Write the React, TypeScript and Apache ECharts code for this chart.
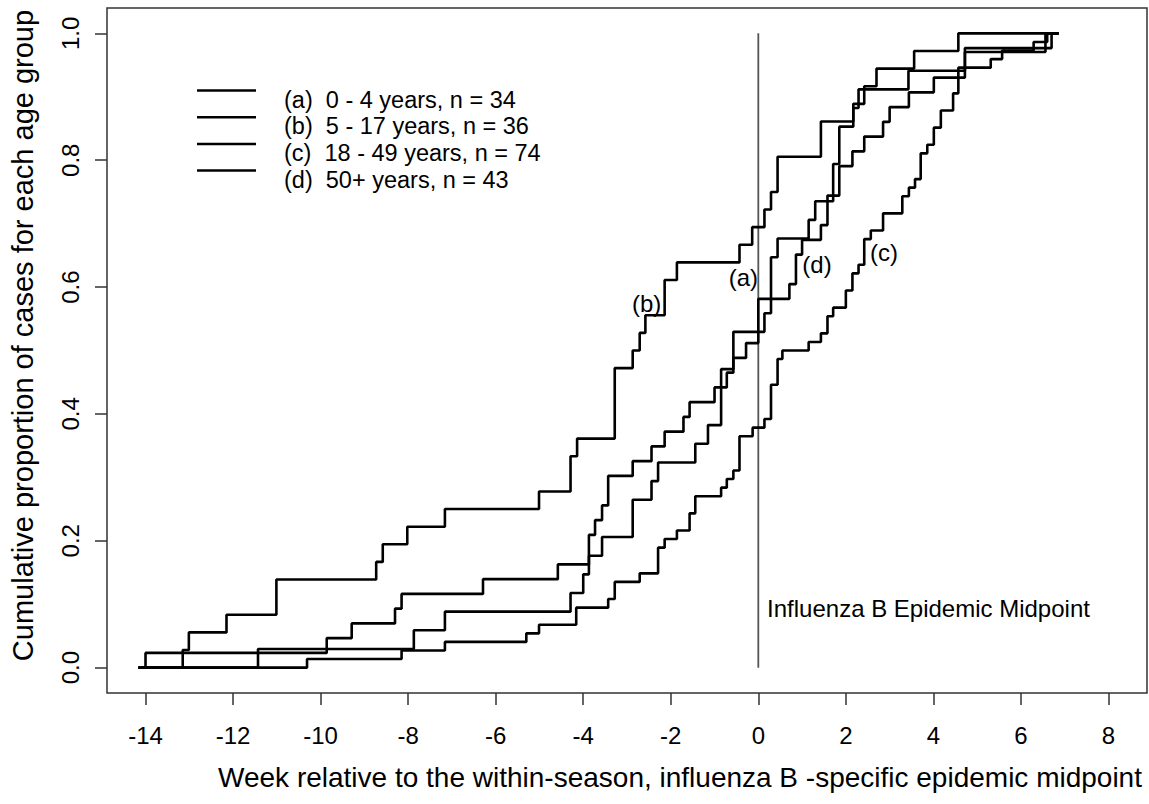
import React, { useEffect, useRef } from "react";
import * as echarts from "echarts";

// ---- Data: week of each step of the cumulative curves, and the cumulative case count reached ----
const aWeeks = [-11.43, -7.87, -7.16, -4.29, -4.0, -3.87, -3.57, -2.87, -2.44, -2.29, -1.44, -1.15, -0.85, -0.57, 0.14, 0.29, 0.44, 1.15, 1.3, 1.71, 1.85, 2.17, 2.29, 3.43, 4.72, 6.56];
const aCounts = [1, 2, 3, 4, 5, 6, 7, 9, 10, 11, 12, 13, 16, 18, 19, 22, 23, 24, 25, 27, 29, 30, 31, 32, 33, 34];
const aN = 34;

const bWeeks = [-13.15, -13.01, -12.15, -11.01, -8.73, -8.58, -8.02, -7.16, -5.01, -4.29, -4.14, -3.28, -2.87, -2.71, -2.58, -2.14, -1.86, -0.43, -0.14, 0.14, 0.29, 0.44, 1.43, 2.17, 2.42, 2.7, 3.56, 4.57];
const bCounts = [1, 2, 3, 5, 6, 7, 8, 9, 10, 12, 13, 17, 18, 19, 20, 22, 23, 24, 25, 26, 27, 29, 31, 32, 33, 34, 35, 36];
const bN = 36;

const cWeeks = [-10.31, -8.15, -7.16, -5.3, -5.01, -4.16, -3.43, -3.28, -2.71, -2.29, -2.14, -1.86, -1.57, -1.44, -0.85, -0.72, -0.57, -0.43, -0.13, 0.14, 0.29, 0.44, 0.55, 1.15, 1.43, 1.58, 1.71, 2.0, 2.15, 2.29, 2.42, 2.57, 2.85, 3.29, 3.44, 3.58, 3.71, 3.86, 4.01, 4.17, 4.45, 4.57, 5.31, 5.57, 6.29, 6.6];
const cCounts = [1, 2, 3, 4, 5, 7, 8, 10, 11, 14, 15, 16, 18, 20, 21, 22, 23, 27, 28, 29, 33, 36, 37, 38, 39, 41, 42, 44, 46, 47, 50, 51, 53, 55, 56, 57, 60, 61, 63, 65, 67, 70, 71, 72, 73, 74];
const cN = 74;

const dWeeks = [-14.0, -9.86, -9.29, -8.3, -8.15, -6.29, -4.58, -3.87, -3.73, -3.57, -3.43, -2.87, -2.44, -2.14, -1.71, -1.57, -1.0, -0.72, -0.57, -0.28, 0, 0.71, 0.86, 1.0, 1.43, 1.58, 1.85, 2.15, 2.42, 2.85, 3.0, 3.44, 4.01, 4.72, 6.7];
const dCounts = [1, 2, 3, 4, 5, 6, 7, 9, 10, 11, 13, 14, 15, 16, 17, 18, 19, 20, 21, 22, 25, 26, 28, 29, 30, 32, 34, 35, 36, 37, 38, 39, 40, 42, 43];
const dN = 43;

const curveStart = -14.16;
const curveEnd = 6.86;

const xTicks = [-14, -12, -10, -8, -6, -4, -2, 0, 2, 4, 6, 8];
const yTicks = [0, 0.2, 0.4, 0.6, 0.8, 1.0];

const legendLabels = [
  "(a)  0 - 4 years, n = 34",
  "(b)  5 - 17 years, n = 36",
  "(c)  18 - 49 years, n = 74",
  "(d)  50+ years, n = 43",
];

const curveTags = ["(a)", "(b)", "(c)", "(d)"];
const curveTagX = [-0.34, -2.55, 2.87, 1.34];
const curveTagY = [0.615, 0.574, 0.655, 0.635];

const midpointWeek = 0;
const midpointText = "Influenza B Epidemic Midpoint";
const midpointTextPos = [0.2, 0.093];

const xTitle = "Week relative to the within-season, influenza B -specific epidemic midpoint";
const yTitle = "Cumulative proportion of cases for each age group";

const FONT = "'Liberation Sans', Arial, Helvetica, sans-serif";

function ecdf(weeks: number[], counts: number[], n: number): number[][] {
  const pts: number[][] = [[curveStart, 0]];
  weeks.forEach((w, i) => pts.push([w, counts[i] / n]));
  pts.push([curveEnd, 1]);
  return pts;
}

export default function App() {
  const ref = useRef<HTMLDivElement>(null);

  useEffect(() => {
    if (!ref.current) return;
    const chart = echarts.init(ref.current, null, { renderer: "svg" });

    const curves = [
      ecdf(aWeeks, aCounts, aN),
      ecdf(bWeeks, bCounts, bN),
      ecdf(cWeeks, cCounts, cN),
      ecdf(dWeeks, dCounts, dN),
    ];

    const legendGraphics: any[] = [];
    legendLabels.forEach((t, i) => {
      const yLine = 90.5 + i * 26.7;
      legendGraphics.push({
        type: "line",
        shape: { x1: 197, y1: yLine, x2: 256, y2: yLine },
        style: { stroke: "#000", lineWidth: 2.5 },
        silent: true,
      });
      legendGraphics.push({
        type: "text",
        x: 284,
        y: yLine + 9,
        style: {
          text: t,
          fontSize: 23.5,
          fontFamily: FONT,
          fill: "#000",
          verticalAlign: "middle",
          align: "left",
        },
        silent: true,
      });
    });

    const tagLabel = {
      show: true,
      fontSize: 24,
      fontFamily: FONT,
      color: "#000",
      opacity: 1,
      textBorderWidth: 0,
      formatter: "{b}",
    };

    const option: any = {
      animation: false,
      backgroundColor: "#fff",
      grid: {
        left: 106,
        right: 2,
        top: 8,
        bottom: 111,
        show: true,
        borderColor: "#333",
        borderWidth: 1.5,
        backgroundColor: "transparent",
      },
      xAxis: {
        type: "value",
        min: -14.88,
        max: 8.88,
        splitLine: { show: false },
        axisLine: { show: false, onZero: false },
        axisTick: {
          show: true,
          length: 12,
          customValues: xTicks,
          lineStyle: { color: "#333", width: 1.5 },
        },
        axisLabel: {
          show: true,
          customValues: xTicks,
          margin: 30,
          fontSize: 24,
          fontFamily: FONT,
          color: "#000",
          formatter: (v: number) => String(v),
        },
        name: xTitle,
        nameLocation: "middle",
        nameGap: 70,
        nameTextStyle: { fontSize: 28, fontFamily: FONT, color: "#000", padding: [0, 0, 0, 106] },
      },
      yAxis: {
        type: "value",
        min: -0.04,
        max: 1.04,
        splitLine: { show: false },
        axisLine: { show: false, onZero: false },
        axisTick: {
          show: true,
          length: 12,
          customValues: yTicks,
          lineStyle: { color: "#333", width: 1.5 },
        },
        axisLabel: {
          show: true,
          customValues: yTicks,
          rotate: 90,
          margin: 25,
          fontSize: 24,
          fontFamily: FONT,
          color: "#000",
          formatter: (v: number) => v.toFixed(1),
        },
        name: yTitle,
        nameLocation: "middle",
        nameGap: 70,
        nameTextStyle: { fontSize: 29, fontFamily: FONT, color: "#000", padding: [0, 0, 0, 30] },
      },
      graphic: legendGraphics,
      series: [
        {
          type: "line",
          data: [
            [midpointWeek, 0],
            [midpointWeek, 1],
          ],
          showSymbol: false,
          lineStyle: { color: "#555", width: 1.8 },
          silent: true,
          z: 1,
        },
        ...curves.map((d) => ({
          type: "line",
          data: d,
          step: "end",
          showSymbol: false,
          lineStyle: { color: "#000", width: 2.6 },
          silent: true,
          z: 2,
        })),
        {
          type: "scatter",
          symbolSize: 1,
          itemStyle: { color: "rgba(0,0,0,0)", opacity: 1 },
          silent: true,
          z: 3,
          data: curveTags.map((t, i) => ({ name: t, value: [curveTagX[i], curveTagY[i]] })),
          label: { ...tagLabel, position: "inside" },
        },
        {
          type: "scatter",
          symbolSize: 1,
          itemStyle: { color: "rgba(0,0,0,0)", opacity: 1 },
          silent: true,
          z: 3,
          data: [{ name: midpointText, value: midpointTextPos }],
          label: { ...tagLabel, position: "inside", align: "left", verticalAlign: "middle" },
        },
      ],
    };

    chart.setOption(option);
    return () => chart.dispose();
  }, []);

  return (
    <div
      ref={ref}
      style={{ position: "fixed", left: 0, top: 0, width: 1149, height: 804, background: "#fff" }}
    />
  );
}
